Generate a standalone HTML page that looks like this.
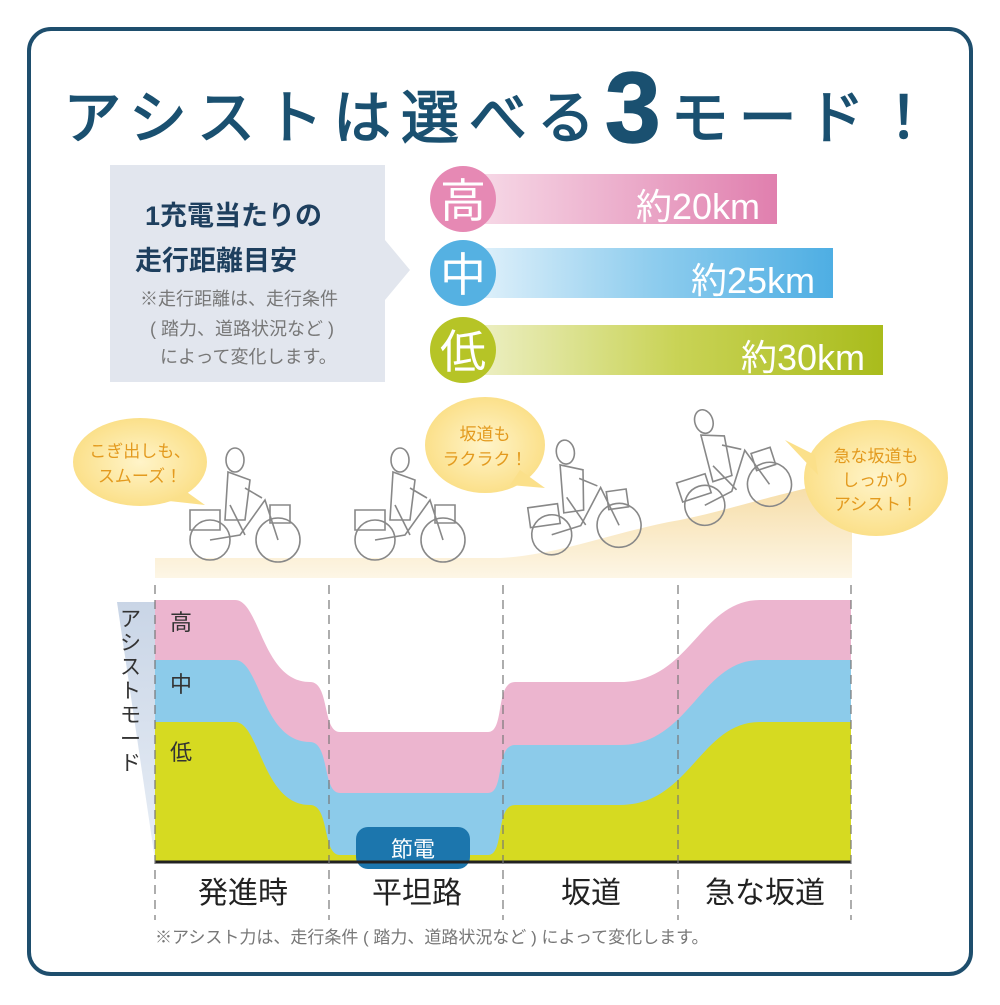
<!DOCTYPE html>
<html><head><meta charset="utf-8"><style>
body{margin:0;background:#fff;width:1000px;height:1000px;overflow:hidden;font-family:"Liberation Sans","Noto Sans CJK JP",sans-serif}
svg text{font-family:"Liberation Sans","Noto Sans CJK JP",sans-serif}
</style></head><body>
<svg width="1000" height="1000" viewBox="0 0 1000 1000" xmlns="http://www.w3.org/2000/svg">
<defs>
<linearGradient id="gp" x1="0" x2="1"><stop offset="0" stop-color="#f7dbe8"/><stop offset="1" stop-color="#e07fae"/></linearGradient>
<linearGradient id="gb" x1="0" x2="1"><stop offset="0" stop-color="#e3f2fb"/><stop offset="0.5" stop-color="#8fcdee"/><stop offset="1" stop-color="#4eaee3"/></linearGradient>
<linearGradient id="gg" x1="0" x2="1"><stop offset="0" stop-color="#eef0c8"/><stop offset="0.5" stop-color="#c9d356"/><stop offset="1" stop-color="#a9bc1c"/></linearGradient>
<linearGradient id="ground" x1="0" x2="0" y1="0" y2="1"><stop offset="0" stop-color="#f6dca4"/><stop offset="1" stop-color="#fdf6e6"/></linearGradient>
<linearGradient id="axis" x1="0" x2="0" y1="0" y2="1"><stop offset="0" stop-color="#c9d5e6"/><stop offset="1" stop-color="#e8eef6"/></linearGradient>
<radialGradient id="bub"><stop offset="0" stop-color="#fff4c9"/><stop offset="1" stop-color="#fbe08a"/></radialGradient>
</defs>
<rect x="29" y="29" width="942" height="945" rx="22" fill="#fff" stroke="#1e4e6d" stroke-width="4"/>
<text x="503" y="138" text-anchor="middle" font-size="58" fill="#1a5070" stroke="#1a5070" stroke-width="1.5" letter-spacing="10">アシストは選べる<tspan font-size="100" dy="4" font-weight="bold">3</tspan><tspan dy="-4">モード！</tspan></text>

<polygon points="110,165 385,165 385,240 410,270 385,300 385,382 110,382" fill="#e2e6ee"/>
<text x="145" y="225" font-size="27" font-weight="bold" fill="#1e3f5e">1充電当たりの</text>
<text x="135" y="270" font-size="27" font-weight="bold" fill="#1e3f5e">走行距離目安</text>
<text x="140" y="305" font-size="18" fill="#777">※走行距離は、走行条件</text>
<text x="150" y="335" font-size="18" fill="#777">( 踏力、道路状況など )</text>
<text x="160" y="363" font-size="18" fill="#777">によって変化します。</text>

<rect x="470" y="174" width="307" height="50" fill="url(#gp)"/>
<circle cx="463" cy="199" r="33" fill="#e689b4"/>
<text x="463" y="217" text-anchor="middle" font-size="46" fill="#fff">高</text>
<text x="760" y="219" text-anchor="end" font-size="36" fill="#fff">約20km</text>
<rect x="470" y="248" width="363" height="50" fill="url(#gb)"/>
<circle cx="463" cy="273" r="33" fill="#55b1e2"/>
<text x="463" y="291" text-anchor="middle" font-size="46" fill="#fff">中</text>
<text x="815" y="293" text-anchor="end" font-size="36" fill="#fff">約25km</text>
<rect x="470" y="325" width="413" height="50" fill="url(#gg)"/>
<circle cx="463" cy="350" r="33" fill="#b6c426"/>
<text x="463" y="368" text-anchor="middle" font-size="46" fill="#fff">低</text>
<text x="865" y="370" text-anchor="end" font-size="36" fill="#fff">約30km</text>

<path d="M155,558 L500,558 C560,555 620,530 680,520 C730,510 770,495 845,480 L852,480 L852,578 L155,578 Z" fill="url(#ground)"/>
<g font-size="17" fill="#e39a1e" text-anchor="middle">
<path d="M170,480 L205,505 L160,500 Z" fill="#fbe08a"/>
<ellipse cx="140" cy="462" rx="67" ry="44" fill="url(#bub)"/>
<text x="140" y="457">こぎ出しも、</text><text x="140" y="482">スムーズ！</text>
<ellipse cx="485" cy="445" rx="60" ry="48" fill="url(#bub)"/>
<path d="M520,470 L545,488 L510,485 Z" fill="#fbe08a"/>
<text x="485" y="440">坂道も</text><text x="485" y="465">ラクラク！</text>
<ellipse cx="876" cy="478" rx="72" ry="58" fill="url(#bub)"/>
<path d="M815,455 L785,440 L818,475 Z" fill="#fbe08a"/>
<text x="876" y="462">急な坂道も</text><text x="876" y="486">しっかり</text><text x="876" y="510">アシスト！</text>
</g>
<g fill="none" stroke="#888" stroke-width="1.6">
<g transform="translate(190,450)"><circle cx="20" cy="90" r="20"/><circle cx="88" cy="90" r="22"/><path d="M20,90 L50,85 L75,50 L88,90 M40,55 L55,85 M0,60 h30 v20 h-30z M80,55 h20 v18 h-20z"/><ellipse cx="45" cy="10" rx="9" ry="12"/><path d="M38,22 L35,70 L55,70 L60,30 Z M55,38 L72,48"/></g>
<g transform="translate(355,450)"><circle cx="20" cy="90" r="20"/><circle cx="88" cy="90" r="22"/><path d="M20,90 L50,85 L75,50 L88,90 M40,55 L55,85 M0,60 h30 v20 h-30z M80,55 h20 v18 h-20z"/><ellipse cx="45" cy="10" rx="9" ry="12"/><path d="M38,22 L35,70 L55,70 L60,30 Z M55,38 L72,48"/></g>
<g transform="translate(530,440) rotate(-8 55 80)"><circle cx="20" cy="90" r="20"/><circle cx="88" cy="90" r="22"/><path d="M20,90 L50,85 L75,50 L88,90 M40,55 L55,85 M0,60 h30 v20 h-30z M80,55 h20 v18 h-20z"/><ellipse cx="45" cy="10" rx="9" ry="12"/><path d="M38,22 L35,70 L55,70 L60,30 Z M55,38 L72,48"/></g>
<g transform="translate(680,405) rotate(-18 55 80)"><circle cx="20" cy="90" r="20"/><circle cx="88" cy="90" r="22"/><path d="M20,90 L50,85 L75,50 L88,90 M40,55 L55,85 M0,60 h30 v20 h-30z M80,55 h20 v18 h-20z"/><ellipse cx="45" cy="10" rx="9" ry="12"/><path d="M38,22 L35,70 L55,70 L60,30 Z M55,38 L72,48"/></g>
</g>

<polygon points="117,602 155,602 155,860" fill="url(#axis)"/>
<text font-size="21" fill="#333"><tspan x="120" y="626">ア</tspan><tspan x="120" y="650">シ</tspan><tspan x="120" y="674">ス</tspan><tspan x="120" y="698">ト</tspan><tspan x="120" y="722">モ</tspan><tspan x="120" y="746">ー</tspan><tspan x="120" y="770">ド</tspan></text>

<path d="M155,600 L235,600 C260,600 262,682 310,682 C330,682 322,732 340,732 L488,732 C505,732 495,682 515,682 L620,682 C690,682 700,600 760,600 L851,600 L851,862 L155,862 Z" fill="#ecb5cf"/>
<path d="M155,660 L235,660 C260,660 262,742 310,742 C330,742 322,793 340,793 L488,793 C505,793 495,745 515,745 L620,745 C690,745 700,660 760,660 L851,660 L851,862 L155,862 Z" fill="#8ccbea"/>
<path d="M155,722 L235,722 C260,722 262,805 310,805 C330,805 322,855 340,855 L488,855 C505,855 495,805 515,805 L620,805 C690,805 700,722 760,722 L851,722 L851,862 L155,862 Z" fill="#d6da21"/>
<rect x="356" y="827" width="114" height="42" rx="12" fill="#1c76ad"/>
<text x="413" y="857" text-anchor="middle" font-size="22" fill="#fff">節電</text>
<line x1="155" y1="862" x2="851" y2="862" stroke="#222" stroke-width="3"/>
<g stroke="#777" stroke-width="1.2" stroke-dasharray="9,6">
<line x1="155" y1="585" x2="155" y2="920"/><line x1="329" y1="585" x2="329" y2="920"/><line x1="503" y1="585" x2="503" y2="920"/><line x1="678" y1="585" x2="678" y2="920"/><line x1="851" y1="585" x2="851" y2="920"/>
</g>
<text font-size="22" fill="#333"><tspan x="170" y="630">高</tspan><tspan x="170" y="692">中</tspan><tspan x="170" y="760">低</tspan></text>
<g font-size="30" fill="#222" text-anchor="middle"><text x="243" y="903">発進時</text><text x="417" y="903">平坦路</text><text x="591" y="903">坂道</text><text x="765" y="903">急な坂道</text></g>
<text x="155" y="943" font-size="17" fill="#777">※アシスト力は、走行条件 ( 踏力、道路状況など ) によって変化します。</text>
</svg>
</body></html>
